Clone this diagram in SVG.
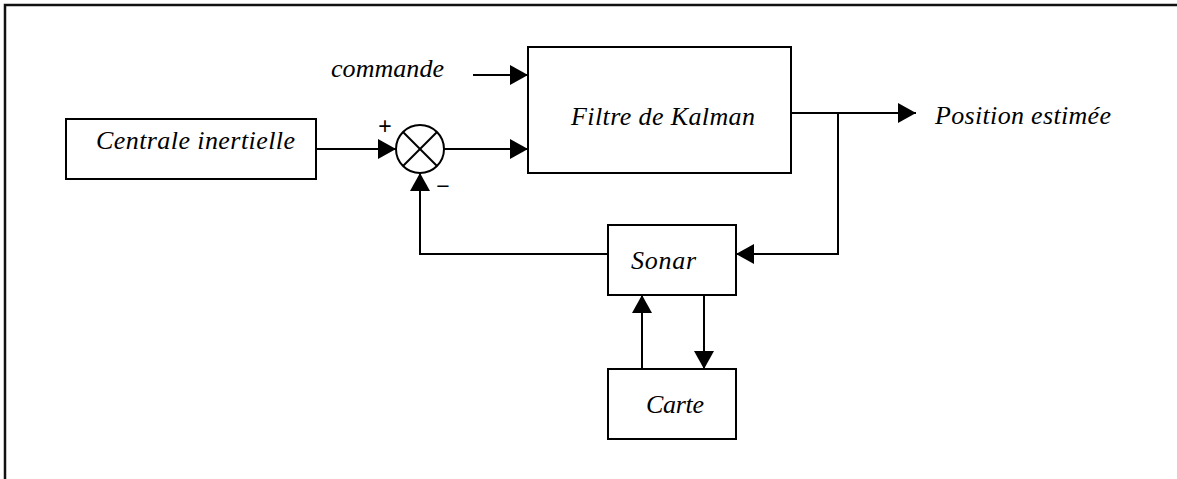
<svg xmlns="http://www.w3.org/2000/svg" width="1177" height="479" viewBox="0 0 1177 479">
<style>
.box{fill:#fff;stroke:#000;stroke-width:2}
.ln{fill:none;stroke:#000;stroke-width:2}
.t{font-family:"Liberation Serif","Times New Roman",serif;font-style:italic;font-size:26px;fill:#000}
.s{font-family:"Liberation Sans",Arial,sans-serif;font-size:23px;fill:#000}
</style>
<defs>
<marker id="ah" viewBox="0 0 18 20" refX="18" refY="10" markerWidth="18" markerHeight="20" markerUnits="userSpaceOnUse" orient="auto">
<path d="M0,0 L18,10 L0,20 Z" fill="#000"/>
</marker>
</defs>
<rect x="5" y="5" width="1190" height="490" fill="none" stroke="#111" stroke-width="2.5"/>
<g id="connectors">
<line class="ln" x1="316" y1="149" x2="396" y2="149" marker-end="url(#ah)"/>
<line class="ln" x1="444" y1="149" x2="528" y2="149" marker-end="url(#ah)"/>
<line class="ln" x1="473" y1="75" x2="528" y2="75" marker-end="url(#ah)"/>
<line class="ln" x1="791" y1="113" x2="916" y2="113" marker-end="url(#ah)"/>
<polyline class="ln" points="838,113 838,254 736,254" marker-end="url(#ah)"/>
<polyline class="ln" points="608,254 420,254 420,173" marker-end="url(#ah)"/>
<line class="ln" x1="642" y1="369" x2="642" y2="295" marker-end="url(#ah)"/>
<line class="ln" x1="704" y1="295" x2="704" y2="369" marker-end="url(#ah)"/>
</g>
<g id="centrale">
<rect class="box" x="66" y="119" width="250" height="60"/>
<text class="t" x="96" y="149" textLength="199" lengthAdjust="spacing">Centrale inertielle</text>
</g>
<g id="sommateur">
<circle class="box" cx="420" cy="149" r="24"/>
<line class="ln" x1="403" y1="132" x2="437" y2="166"/>
<line class="ln" x1="437" y1="132" x2="403" y2="166"/>
<text class="s" x="385" y="134" text-anchor="middle">+</text>
<text class="s" x="443" y="194" text-anchor="middle">−</text>
</g>
<g id="commande">
<text class="t" x="331" y="77" textLength="113" lengthAdjust="spacing">commande</text>
</g>
<g id="kalman">
<rect class="box" x="528" y="47" width="263" height="126"/>
<text class="t" x="571" y="125" textLength="184" lengthAdjust="spacing">Filtre de Kalman</text>
</g>
<g id="position">
<text class="t" x="935" y="124" textLength="176" lengthAdjust="spacing">Position estimée</text>
</g>
<g id="sonar">
<rect class="box" x="608" y="225" width="128" height="70"/>
<text class="t" x="631" y="269" textLength="65" lengthAdjust="spacing">Sonar</text>
</g>
<g id="carte">
<rect class="box" x="608" y="369" width="128" height="70"/>
<text class="t" x="646" y="413" textLength="58" lengthAdjust="spacing">Carte</text>
</g>
</svg>
